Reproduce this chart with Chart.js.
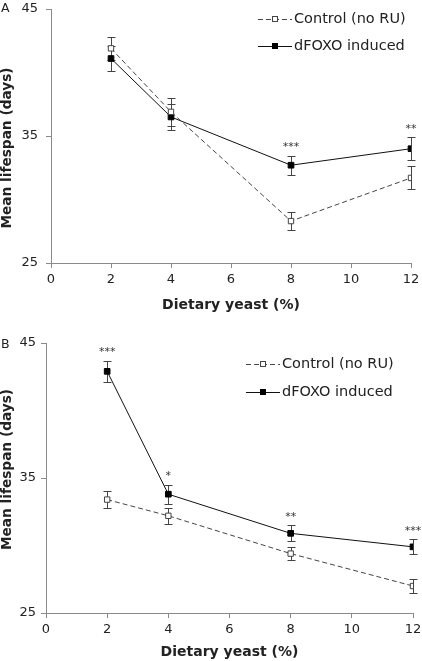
<!DOCTYPE html>
<html>
<head>
<meta charset="UTF-8">
<title>Mean lifespan vs dietary yeast</title>
<script src="https://cdn.jsdelivr.net/npm/chart.js@4"></script>
<style>
  body { margin: 0; background: #fff; }
  .panel { position: absolute; left: 0; }
  .panel canvas { display: block; }
</style>
</head>
<body>
<div class="panel" style="top:0"><canvas id="chartA" width="422" height="330"></canvas></div>
<div class="panel" style="top:330px"><canvas id="chartB" width="422" height="331"></canvas></div>
<script>
// data
var yeast = [2, 4, 8, 12];
var seriesNames = ['Control (no RU)', 'dFOXO induced'];

var controlA = [41.9, 36.9, 28.3, 31.7];
var controlAErr = [0.9, 1.1, 0.7, 0.9];
var foxoA = [41.1, 36.5, 32.7, 34.0];
var foxoAErr = [1.0, 1.0, 0.75, 0.9];
var sigA = ['', '', '***', '**'];

var controlB = [33.4, 32.2, 29.4, 27.0];
var controlBErr = [0.65, 0.6, 0.5, 0.5];
var foxoB = [42.9, 33.8, 30.9, 29.9];
var foxoBErr = [0.8, 0.7, 0.6, 0.55];
var sigB = ['***', '*', '**', '***'];

var yTicks = [25, 35, 45];
var xTicks = [0, 2, 4, 6, 8, 10, 12];
var xTitle = 'Dietary yeast (%)';
var yTitle = 'Mean lifespan (days)';

var FONT = "'DejaVu Sans', Verdana, sans-serif";
var AXIS = '#8a8a8a';
var INK = '#222';

function pts(vals) {
    return vals.map(function (v, i) { return { x: yeast[i], y: v }; });
}

// error bars, drawn under the markers
var errorBars = {
    id: 'errorBars',
    beforeDatasetsDraw: function (chart) {
        var ctx = chart.ctx, xs = chart.scales.x, ys = chart.scales.y;
        ctx.save();
        ctx.strokeStyle = '#444';
        ctx.lineWidth = 1;
        chart.data.datasets.forEach(function (ds) {
            ds.data.forEach(function (p, i) {
                var e = ds.errors[i];
                var x = Math.round(xs.getPixelForValue(p.x)) + 0.5;
                var y1 = Math.round(ys.getPixelForValue(p.y + e)) + 0.5;
                var y2 = Math.round(ys.getPixelForValue(p.y - e)) + 0.5;
                ctx.beginPath();
                ctx.moveTo(x, y1); ctx.lineTo(x, y2);
                ctx.moveTo(x - 4, y1); ctx.lineTo(x + 4, y1);
                ctx.moveTo(x - 4, y2); ctx.lineTo(x + 4, y2);
                ctx.stroke();
            });
        });
        ctx.restore();
    }
};

// significance stars, y title, panel letter and legend
var extras = {
    id: 'extras',
    afterDraw: function (chart) {
        var o = chart.options.plugins.extras;
        var ctx = chart.ctx, xs = chart.scales.x, ys = chart.scales.y;
        var sets = chart.data.datasets;
        ctx.save();
        ctx.fillStyle = '#333';
        ctx.font = '11px ' + FONT;
        ctx.textAlign = 'center';
        ctx.textBaseline = 'bottom';
        o.sig.forEach(function (s, i) {
            if (!s) return;
            var top = Math.max.apply(null, sets.map(function (ds) { return ds.data[i].y + ds.errors[i]; }));
            ctx.fillText(s, xs.getPixelForValue(yeast[i]), ys.getPixelForValue(top) - 3);
        });

        // y axis title
        ctx.fillStyle = INK;
        ctx.save();
        ctx.translate(7.5, o.yTitleY);
        ctx.rotate(-Math.PI / 2);
        ctx.font = 'bold 13.7px ' + FONT;
        ctx.textBaseline = 'middle';
        ctx.fillText(yTitle, 0, 0);
        ctx.restore();

        ctx.font = '12.5px ' + FONT;
        ctx.textAlign = 'left';
        ctx.textBaseline = 'alphabetic';
        ctx.fillText(o.letter, 1, o.letterY);

        ctx.textBaseline = 'middle';
        ctx.font = '14.5px ' + FONT;
        sets.forEach(function (ds, k) {
            var y = Math.round(o.legendY + k * o.legendGap) + 0.5;
            var x0 = o.legendX, x1 = o.legendX + 34;
            ctx.strokeStyle = ds.borderColor;
            ctx.lineWidth = 1;
            ctx.setLineDash(ds.borderDash || []);
            ctx.beginPath(); ctx.moveTo(x0, y); ctx.lineTo(x1, y); ctx.stroke();
            ctx.setLineDash([]);
            var mx = Math.round((x0 + x1) / 2);
            ctx.fillStyle = ds.pointBackgroundColor;
            ctx.fillRect(mx - 3, y - 3.5, 6, 6);
            ctx.strokeStyle = ds.pointBorderColor;
            ctx.strokeRect(mx - 2.5, y - 3, 5, 5);
            ctx.fillStyle = INK;
            ctx.fillText(ds.label, x1 + 2, y);
        });
        ctx.restore();
    }
};

function makePanel(id, control, controlErr, foxo, foxoErr, sig, lay) {
    return new Chart(document.getElementById(id), {
        type: 'line',
        data: {
            datasets: [{
                label: seriesNames[0],
                data: pts(control),
                errors: controlErr,
                borderColor: '#444',
                borderWidth: 1,
                borderDash: [5, 3],
                pointStyle: 'rect',
                pointRadius: 3.8,
                pointBorderWidth: 1,
                pointBackgroundColor: '#fff',
                pointBorderColor: '#444',
                tension: 0
            }, {
                label: seriesNames[1],
                data: pts(foxo),
                errors: foxoErr,
                borderColor: '#111',
                borderWidth: 1,
                pointStyle: 'rect',
                pointRadius: 4,
                pointBorderWidth: 1,
                pointBackgroundColor: '#000',
                pointBorderColor: '#000',
                tension: 0
            }]
        },
        options: {
            responsive: false,
            animation: false,
            layout: { padding: { left: 0, right: lay.right, top: lay.top, bottom: 0 } },
            plugins: {
                legend: { display: false },
                tooltip: { enabled: false },
                extras: { sig: sig, letter: lay.letter, letterY: lay.letterY, yTitleY: lay.yTitleY,
                          legendX: lay.legendX, legendY: lay.legendY, legendGap: lay.legendGap }
            },
            scales: {
                x: {
                    type: 'linear',
                    min: 0, max: 12,
                    afterBuildTicks: function (s) { s.ticks = xTicks.map(function (v) { return { value: v }; }); },
                    afterFit: function (s) { s.height = lay.xHeight; s.paddingLeft = 0; s.paddingRight = 0; },
                    grid: { drawOnChartArea: false, color: AXIS, tickLength: 5, tickColor: AXIS },
                    border: { color: AXIS },
                    ticks: { color: INK, font: { family: FONT, size: 13 }, padding: 4, maxRotation: 0 },
                    title: { display: true, text: xTitle, color: INK,
                             font: { family: FONT, size: 14, weight: 'bold' },
                             padding: { top: 0, bottom: lay.xTitlePad } }
                },
                y: {
                    min: 25, max: 45,
                    afterBuildTicks: function (s) { s.ticks = yTicks.map(function (v) { return { value: v }; }); },
                    afterFit: function (s) { s.width = lay.yWidth; s.paddingTop = 0; s.paddingBottom = 0; },
                    grid: { drawOnChartArea: false, color: AXIS, tickLength: 5, tickColor: AXIS },
                    border: { color: AXIS },
                    ticks: { color: INK, font: { family: FONT, size: 13 }, padding: lay.yTickPad }
                }
            }
        },
        plugins: [errorBars, extras]
    });
}

makePanel('chartA', controlA, controlAErr, foxoA, foxoAErr, sigA, {
    right: 11, top: 9, xHeight: 67, xTitlePad: 16, yWidth: 51, yTickPad: 8, yTitleY: 148,
    letter: 'A', letterY: 11.5, legendX: 258, legendY: 19, legendGap: 27
});
makePanel('chartB', controlB, controlBErr, foxoB, foxoBErr, sigB, {
    right: 9, top: 13, xHeight: 48, xTitlePad: 0, yWidth: 46, yTickPad: 5, yTitleY: 139.5,
    letter: 'B', letterY: 18.3, legendX: 246, legendY: 34, legendGap: 28
});
</script>
</body>
</html>
